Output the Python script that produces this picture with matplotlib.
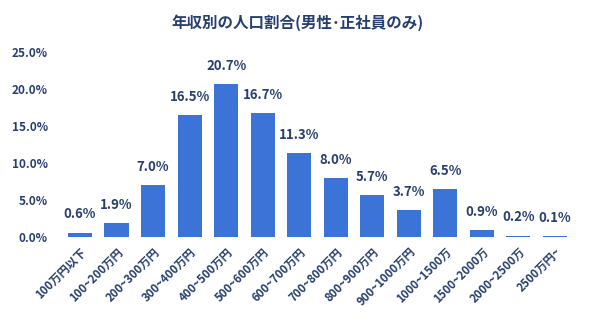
import numpy as np
import matplotlib
matplotlib.use("Agg")
import matplotlib.pyplot as plt

plt.rcParams["font.family"] = ["Noto Sans CJK JP", "DejaVu Sans"]

# ── data ────────────────────────────────────────────────────────────────────
categories = ["100万円以下", "100~200万円", "200~300万円", "300~400万円",
              "400~500万円", "500~600万円", "600~700万円", "700~800万円",
              "800~900万円", "900~1000万円", "1000~1500万", "1500~2000万",
              "2000~2500万", "2500万円~"]
shares = [0.6, 1.9, 7.0, 16.5, 20.7, 16.7, 11.3, 8.0, 5.7, 3.7, 6.5, 0.9, 0.2, 0.1]
yticks = [0, 5, 10, 15, 20, 25]

BAR = "#3b74d6"
TEXT = "#263f70"

fig = plt.figure(figsize=(5.96, 3.26), dpi=100)
ax = fig.add_axes([0.1036, 0.273, 0.858, 0.5675])

x = np.arange(len(categories))
ax.bar(x, shares, width=0.66, color=BAR)

for xi, v in zip(x, shares):
    ax.annotate(f"{v:.1f}%", (xi, v), xytext=(0, 8), textcoords="offset points",
                ha="center", va="bottom", fontsize=9.5, fontweight="bold", color=TEXT)

ax.set_xlim(-0.5, len(categories) - 0.5)
ax.set_ylim(0, 25)
ax.set_yticks(yticks)
ax.set_yticklabels([f"{t:.1f}%" for t in yticks], fontsize=8.5,
                   fontweight="bold", color=TEXT)
ax.set_xticks(x)
ax.set_xticklabels(categories, rotation=45, ha="right", rotation_mode="anchor",
                   fontsize=8.2, fontweight="bold", color=TEXT)
ax.tick_params(length=0)
ax.tick_params(axis="y", pad=10)
ax.tick_params(axis="x", pad=6)
for s in ax.spines.values():
    s.set_visible(False)

fig.text(0.499, 0.932, "年収別の人口割合(男性･正社員のみ)", ha="center", va="center",
         fontsize=11.2, fontweight="bold", color=TEXT)

fig.savefig("out.png", dpi=100, facecolor="white")
